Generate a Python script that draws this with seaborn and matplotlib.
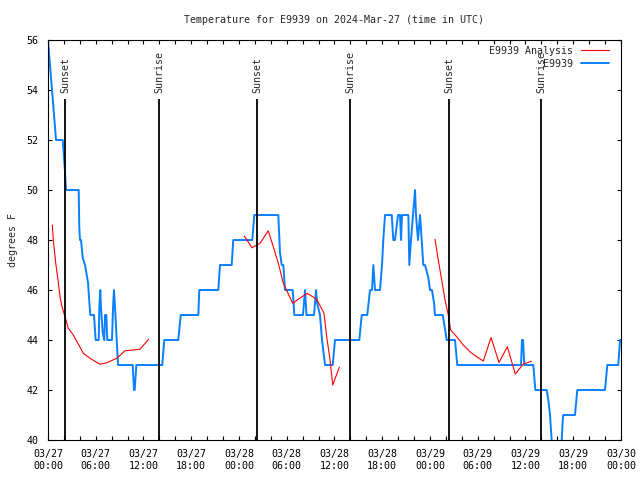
import pandas as pd
import numpy as np
import matplotlib
matplotlib.use('Agg')
import matplotlib.pyplot as plt
import matplotlib.dates as mdates
from matplotlib.lines import Line2D
import seaborn as sns


start = pd.Timestamp('2024-03-27 00:00')

# station observations, hours after 03/27 00Z
obs_hours = [0, 0.25, 0.50, 0.75, 1.01, 1.85, 2.01, 2.14, 2.26, 3.86, 3.93, 4.02, 4.15, 4.36,
             4.65, 5.03, 5.15, 5.32, 5.78, 5.99, 6.37, 6.45, 6.57, 6.66, 6.87, 7.07, 7.16,
             7.33, 7.45, 8.04, 8.17, 8.29, 8.42, 8.63, 8.80, 10.64, 10.81, 10.89, 11.10,
             14.36, 14.61, 16.37, 16.68, 18.89, 19.01, 21.40, 21.61, 23.08, 23.28, 25.67,
             25.92, 28.94, 29.15, 29.37, 29.57, 29.78, 30.75, 30.95, 31.45, 32.04, 32.30,
             32.48, 33.43, 33.68, 33.80, 34.18, 34.43, 34.81, 35.78, 36.06, 39.12, 39.42,
             40.12, 40.46, 40.71, 40.88, 41.09, 41.72, 41.97, 42.13, 42.35, 43.19, 43.39,
             43.60, 43.98, 44.23, 44.36, 44.48, 45.28, 45.40, 45.61, 45.87, 45.99, 46.12,
             46.24, 46.49, 46.75, 46.96, 47.16, 47.37, 47.79, 48.00, 48.25, 48.50, 48.63,
             49.60, 49.76, 50.10, 51.14, 51.43, 59.44, 59.56, 59.69, 59.85, 60.98, 61.24,
             62.67, 62.87, 63.08, 63.29, 63.39, 64.46, 64.55, 64.68, 64.75, 66.22, 66.51,
             69.99, 70.28, 71.66, 71.88, 72.00]
obs_temp = [56, 55, 54, 53, 52, 52, 51.3, 50.7, 50, 50, 48.5, 48, 48, 47.3,
            47, 46.3, 45.7, 45, 45, 44, 44, 45.3, 46, 45.3, 44.3, 44, 45,
            45, 44, 44, 45.3, 46, 45.3, 44, 43, 43, 42, 42, 43,
            43, 44, 44, 45, 45, 46, 46, 47, 47, 48, 48,
            49, 49, 47.5, 47, 47, 46, 46, 45, 45, 45, 46,
            45, 45, 46, 45.5, 45, 44, 43, 43, 44, 44, 45,
            45, 46, 46, 47, 46, 46, 47, 48, 49, 49, 48,
            48, 49, 49, 48, 49, 49, 47, 48, 49, 49.5, 50,
            49, 48, 49, 48, 47, 47, 46.5, 46, 46, 45.5, 45,
            45, 44.7, 44, 44, 43, 43, 44, 44, 43, 43, 42,
            42, 41.6, 41, 40, 39, 39, 40, 40.8, 41, 41, 42,
            42, 43, 43, 44, 44]

# analysis, three separate runs
ana_run = [1] * 17 + [2] * 16 + [3] * 17
ana_hours = [0.54, 0.67, 0.97, 1.26, 1.51, 1.76, 2.14, 2.55, 3.18, 4.44, 5.28, 6.53, 7.38,
             8.63, 9.68, 11.56, 12.65,
             24.67, 25.63, 26.64, 27.68, 28.31, 28.94, 29.57, 30.75, 31.45, 32.58, 33.76,
             34.68, 35.02, 35.44, 35.78, 36.61,
             48.63, 49.04, 49.47, 49.89, 50.30, 50.60, 51.36, 52.18, 53.03, 53.87, 54.70,
             55.67, 56.67, 57.72, 58.72, 59.73, 60.73]
ana_temp = [48.6, 48.0, 47.07, 46.4, 45.73, 45.33, 44.93, 44.47, 44.2, 43.47, 43.27, 43.03,
            43.09, 43.27, 43.57, 43.63, 44.03,
            48.16, 47.69, 47.87, 48.37, 47.73, 47.07, 46.27, 45.47, 45.63, 45.87, 45.63,
            45.07, 44.13, 43.2, 42.2, 42.91,
            48.03, 47.2, 46.4, 45.6, 45.0, 44.4, 44.13, 43.8, 43.53, 43.33, 43.16,
            44.1, 43.1, 43.73, 42.64, 43.04, 43.15]

sun_hours = [2.17, 13.99, 26.30, 37.99, 50.43, 61.99]
sun_labels = ['Sunset', 'Sunrise', 'Sunset', 'Sunrise', 'Sunset', 'Sunrise']


def to_time(hours):
    return start + pd.to_timedelta(np.array(hours), unit='h')


obs = pd.DataFrame({'time': to_time(obs_hours), 'temp': obs_temp})
ana = pd.DataFrame({'time': to_time(ana_hours), 'temp': ana_temp, 'run': ana_run})

sns.set_style('ticks')
plt.rcParams['font.family'] = ['DejaVu Sans Mono']
plt.rcParams['font.size'] = 7.2

fig = plt.figure(figsize=(6.4, 4.8), dpi=100)
ax = fig.add_axes([0.075, 0.0833, 0.8953, 0.8333])

sns.lineplot(data=obs, x='time', y='temp', color='#0a80ff', lw=1.4,
             estimator=None, sort=False, ax=ax)
sns.lineplot(data=ana, x='time', y='temp', units='run', color='red', lw=0.8,
             estimator=None, sort=False, ax=ax)

sun_t = to_time(sun_hours)
ax.vlines(sun_t, 40, 53.63, color='black', lw=1.3)
for t, lab in zip(sun_t, sun_labels):
    ax.text(t, 53.9, lab, rotation=90, ha='center', va='bottom', fontsize=7.2)

ax.set_xlim(start, start + pd.Timedelta(hours=72))
ax.set_ylim(40, 56)
ax.set_yticks(np.arange(40, 57, 2))
ax.xaxis.set_major_locator(mdates.HourLocator(byhour=[0, 6, 12, 18]))
ax.xaxis.set_minor_locator(mdates.HourLocator(interval=2))
ax.xaxis.set_major_formatter(mdates.DateFormatter('%m/%d\n%H:%M'))
ax.tick_params(which='both', direction='in', top=True, right=True, length=3,
               width=0.8, labelsize=7.2, colors='black')
ax.tick_params(axis='x', pad=6.5)
ax.tick_params(axis='y', pad=7)
for s in ax.spines.values():
    s.set_linewidth(0.8)
    s.set_color('black')

ax.set_xlabel('')
ax.set_ylabel('degrees F', fontsize=7.2)
ax.yaxis.set_label_coords(-0.052, 0.5)
ax.set_title('Temperature for E9939 on 2024-Mar-27 (time in UTC)', fontsize=7.2, pad=12)

handles = [Line2D([], [], color='red', lw=0.8), Line2D([], [], color='#0a80ff', lw=1.4)]
ax.legend(handles, ['E9939 Analysis', 'E9939'], loc='upper right',
          bbox_to_anchor=(0.979, 0.986), frameon=False, markerfirst=False,
          handlelength=2.8, labelspacing=0.3, borderaxespad=0, borderpad=0,
          handletextpad=0.8, fontsize=7.2)

fig.savefig('out.png', dpi=100)
